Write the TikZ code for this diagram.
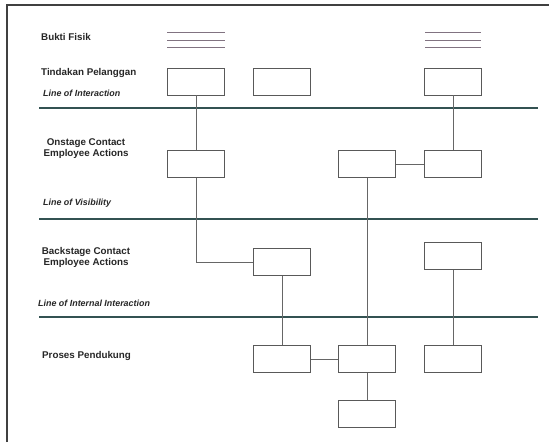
\documentclass[tikz,border=0pt]{standalone}
\usepackage{fontspec}
\setmainfont{Liberation Sans}
\begin{document}
\begin{tikzpicture}[x=1pt,y=-1pt,
  lbl/.style={anchor=west,inner sep=0pt,font=\fontsize{9.8}{11.5}\selectfont\bfseries,text=black!85},
  lanelbl/.style={lbl,align=center,anchor=center},
  linelbl/.style={anchor=west,inner sep=0pt,font=\fontsize{8.9}{10}\selectfont\bfseries\itshape,text=black!85},
  actbox/.style={draw=black!65,line width=0.8pt,minimum width=57pt,minimum height=27pt,inner sep=0pt},
  link/.style={draw=black!60,line width=0.7pt},
  divider/.style={draw=teal!30!black!80,line width=2pt},
  evidence/.style={draw=violet!20!black!55,line width=1pt}]
\useasboundingbox (0,0) rectangle (549,442);

% frame (top and left edges)
\draw[black!75,line width=1.4pt] (7,442) -- (7,5) -- (549,5);

% lane labels
\node[lbl] (bukti) at (41,37) {Bukti Fisik};
\node[lbl] (tindakan) at (41,73) {Tindakan Pelanggan};
\node[linelbl] (loi) at (43,93) {Line of Interaction};
\node[lanelbl] (onstage) at (86,148.5) {Onstage Contact\\Employee Actions};
\node[linelbl] (lov) at (43,203) {Line of Visibility};
\node[lanelbl] (backstage) at (86,257.5) {Backstage Contact\\Employee Actions};
\node[linelbl] (loii) at (38,303) {Line of Internal Interaction};
\node[lbl] (proses) at (42,356) {Proses Pendukung};

% separating lines
\draw[divider] (39,108) -- (538,108);
\draw[divider] (39,219) -- (538,219);
\draw[divider] (39,317) -- (538,317);

% physical evidence marks
\foreach \yy in {32,40,47} {
  \draw[evidence] (167,\yy) -- (225,\yy);
  \draw[evidence] (425,\yy) -- (481,\yy);
}

% action boxes
\node[actbox] (tp1) at (196,81.5) {};
\node[actbox] (tp2) at (282,81.5) {};
\node[actbox] (tp3) at (453,81.5) {};
\node[actbox] (on1) at (196,164) {};
\node[actbox] (on2) at (367,164) {};
\node[actbox] (on3) at (453,164) {};
\node[actbox] (bk1) at (282,262) {};
\node[actbox] (bk2) at (453,256) {};
\node[actbox] (sp1) at (282,359) {};
\node[actbox] (sp2) at (367,359) {};
\node[actbox] (sp3) at (453,359) {};
\node[actbox] (sp4) at (367,414) {};

% connectors
\draw[link] (tp1.south) -- (on1.north);
\draw[link] (on1.south) |- (bk1.west);
\draw[link] (tp3.south) -- (on3.north);
\draw[link] (on2.east) -- (on3.west);
\draw[link] (on2.south) -- (sp2.north);
\draw[link] (bk1.south) -- (sp1.north);
\draw[link] (bk2.south) -- (sp3.north);
\draw[link] (sp1.east) -- (sp2.west);
\draw[link] (sp2.south) -- (sp4.north);
\end{tikzpicture}
\end{document}
